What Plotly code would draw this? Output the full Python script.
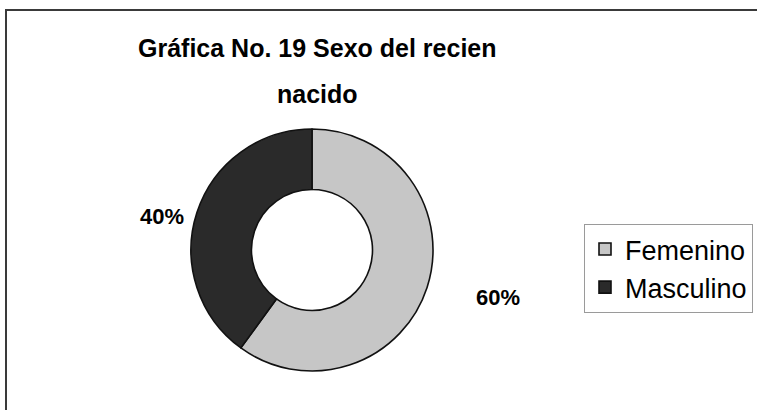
import plotly.graph_objects as go

# Data
categories = ["Femenino", "Masculino"]
values = [60, 40]
colors = ["#c6c6c6", "#2a2a2a"]

title_line1 = "Gráfica No. 19 Sexo del recien"
title_line2 = "nacido"

total = sum(values)
pct_text = [f"{round(v / total * 100)}%" for v in values]

W, H = 757, 410

fig = go.Figure()
fig.add_trace(go.Pie(
    labels=categories,
    values=values,
    hole=0.5,
    sort=False,
    direction="clockwise",
    rotation=0,
    textinfo="none",
    hoverinfo="label+percent",
    marker=dict(colors=colors, line=dict(color="#111111", width=1.6)),
    domain=dict(x=[191 / W, 433 / W], y=[1 - 372 / H, 1 - 128 / H]),
))

font_family = "Arial, Liberation Sans, sans-serif"

# Title (two lines, placed separately for the wide line spacing)
for txt, yc in [(title_line1, 48), (title_line2, 94)]:
    fig.add_annotation(
        text=f"<b>{txt}</b>", x=317 / W, y=1 - yc / H,
        xref="paper", yref="paper", showarrow=False,
        xanchor="center", yanchor="middle",
        font=dict(family=font_family, size=25, color="#000000"),
    )

# Percentage labels beside the ring
label_pos = {"Femenino": (498, 297), "Masculino": (162, 216)}
for cat, txt in zip(categories, pct_text):
    px, py = label_pos[cat]
    fig.add_annotation(
        text=f"<b>{txt}</b>", x=px / W, y=1 - py / H,
        xref="paper", yref="paper", showarrow=False,
        xanchor="center", yanchor="middle",
        font=dict(family=font_family, size=22, color="#000000"),
    )

# Outer chart frame
fig.add_shape(
    type="rect", xref="paper", yref="paper",
    x0=6 / W, x1=1.02, y0=-0.02, y1=1 - 10 / H,
    line=dict(color="#3a3a3a", width=2), fillcolor="rgba(0,0,0,0)",
)

fig.update_layout(
    width=W, height=H,
    margin=dict(l=0, r=0, t=0, b=0),
    paper_bgcolor="white", plot_bgcolor="white",
    showlegend=True,
    legend=dict(
        x=584 / W, y=1 - 224 / H, xanchor="left", yanchor="top",
        bgcolor="white", bordercolor="#9a9a9a", borderwidth=1,
        font=dict(family=font_family, size=27, color="#000000"),
        itemwidth=30,
    ),
)

fig.write_html("out.html")
